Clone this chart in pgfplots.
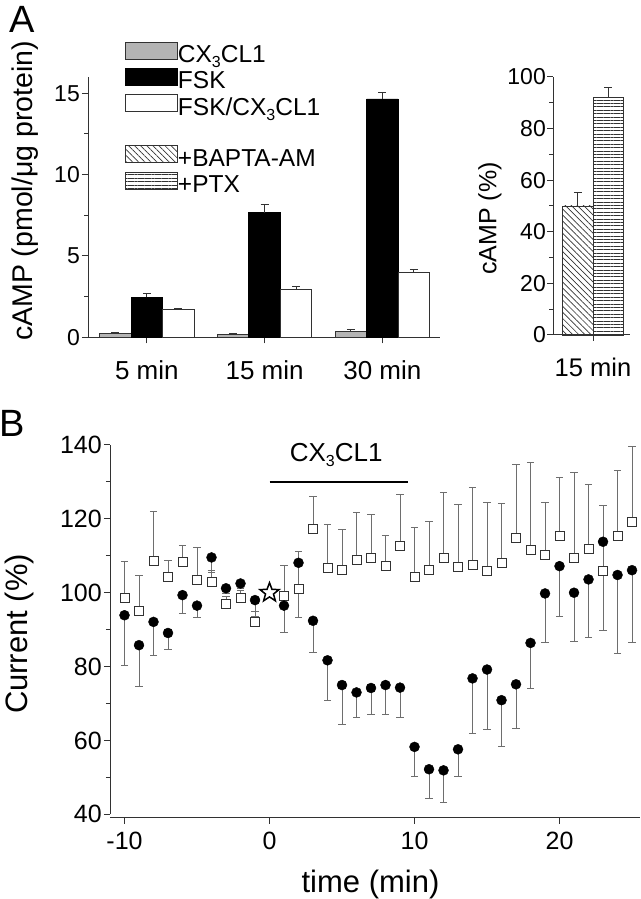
\documentclass[border=0pt]{standalone}
\usepackage{pgfplots}
\usepackage{pgfplotstable}
\pgfplotsset{compat=1.18}
\usepackage{fontspec}
\setmainfont{Liberation Sans}
\usetikzlibrary{patterns.meta}
\definecolor{barGray}{RGB}{180,180,180}
\definecolor{errGray}{RGB}{110,110,110}
\definecolor{axGray}{RGB}{50,50,50}
\newcommand{\fs}[1]{\fontsize{#1}{#1}\selectfont}
\newcommand{\sub}[1]{\raisebox{-0.2em}{\fontsize{16}{16}\selectfont #1}}

\pgfdeclareplotmark{ostar}{%
  \pgfpathmoveto{\pgfpointpolar{90}{\pgfplotmarksize}}%
  \pgfpathlineto{\pgfpointpolar{126}{0.42\pgfplotmarksize}}%
  \pgfpathlineto{\pgfpointpolar{162}{\pgfplotmarksize}}%
  \pgfpathlineto{\pgfpointpolar{198}{0.42\pgfplotmarksize}}%
  \pgfpathlineto{\pgfpointpolar{234}{\pgfplotmarksize}}%
  \pgfpathlineto{\pgfpointpolar{270}{0.42\pgfplotmarksize}}%
  \pgfpathlineto{\pgfpointpolar{306}{\pgfplotmarksize}}%
  \pgfpathlineto{\pgfpointpolar{342}{0.42\pgfplotmarksize}}%
  \pgfpathlineto{\pgfpointpolar{18}{\pgfplotmarksize}}%
  \pgfpathlineto{\pgfpointpolar{54}{0.42\pgfplotmarksize}}%
  \pgfpathclose
  \pgfusepathqfillstroke}

\pgfplotsset{
  myax/.style={
    scale only axis,
    axis x line=bottom, axis y line=left,
    axis line style={-, axGray, line width=1pt},
    tick align=outside,
    major tick length=6pt, minor tick length=4pt,
    every tick/.style={axGray, line width=1pt},
    /pgf/number format/assume math mode=true,
    clip=false,
  },
  mylegimg/.style={legend image code/.code={\draw[##1,line width=0.8pt] (0pt,0pt) rectangle (52pt,17pt);}},
}

\pgfplotstableread{
x y e
-10 98.6 9.8
-9 95.1 9.5
-8 108.6 13.5
-7 104.3 4.5
-6 108.4 4.3
-5 103.6 8.7
-4 102.9 3.0
-3 96.9 2.0
-2 98.6 2.0
-1 92.1 2.9
1 99.1 8.2
2 100.9 10.4
3 117.4 8.6
4 106.6 12.0
5 106.1 11.1
6 108.8 13.0
7 109.55 11.7
8 107.3 8.3
9 112.6 13.9
10 104.3 13.3
11 106.1 13.1
12 109.55 17.6
13 107.0 17.0
14 107.6 20.8
15 105.9 18.6
16 108.1 16.1
17 114.9 19.7
18 111.7 23.5
19 110.2 14.3
20 115.4 15.8
21 109.5 23.0
22 111.9 17.3
23 105.9 17.6
24 115.4 17.6
25 119.2 20.5
}\sqdata

\pgfplotstableread{
x y e
-10 93.9 13.5
-9 85.8 11.1
-8 92.1 9.2
-7 89.1 4.4
-6 99.35 5.0
-5 96.5 3.3
-4 109.55 4.0
-3 101.2 1.4
-2 102.5 1.3
-1 98.0 4.5
1 96.5 7.3
2 108.1 14.9
3 92.4 8.7
4 81.7 10.8
5 75.0 10.6
6 73.0 6.9
7 74.2 7.1
8 75.0 7.9
9 74.3 8.2
10 58.25 8.0
11 52.2 7.8
12 51.9 8.6
13 57.6 7.3
14 76.8 14.9
15 79.2 16.2
16 70.9 12.4
17 75.2 12.0
18 86.4 12.3
19 99.8 13.4
20 107.2 13.5
21 100.0 13.1
22 103.6 15.7
23 113.8 24.1
24 104.8 21.3
25 106.1 19.6
}\cirdata

\begin{document}
\begin{tikzpicture}
\path[use as bounding box] (0pt,0pt) rectangle (640pt,899pt);

\node[anchor=base west, inner sep=0pt, font=\fs{38}] at (9pt,866pt) {A};
\node[anchor=base west, inner sep=0pt, font=\fs{38}] at (-1pt,462pt) {B};

% Panel A left
\begin{axis}[myax,
  at={(88pt,561.7pt)}, anchor=south west,
  width=352pt, height=260.3pt,
  xmin=-0.5, xmax=2.49, ymin=0, ymax=16,
  ytick={0,5,10,15}, minor ytick={2.5,7.5,12.5},
  xtick={0,1,2}, xticklabels={5 min,15 min,30 min},
  ybar=0pt, bar width=31.5pt,
  yticklabel style={font=\fs{23}, inner sep=2pt},
  xticklabel style={font=\fs{26}, inner sep=0pt, yshift=-17pt},
  ylabel={cAMP (pmol/μg protein)},
  every axis y label/.style={at={(-0.179,0.562)}, rotate=90, anchor=center, font=\fs{28.5}},
  error bars/y dir=plus, error bars/y explicit,
  error bars/error mark options={rotate=90, mark size=4pt, axGray, line width=0.8pt},
  error bars/error bar style={axGray, line width=0.8pt},
  legend style={at={(0.105,1.137)}, anchor=north west, draw=none, fill=none,
    inner sep=0pt, row sep=0.5pt, font=\fs{24.5},
    nodes={inner sep=0pt, text height=12pt, text depth=5pt},
    /tikz/every even column/.append style={column sep=4pt}},
  legend cell align=left,
]
\addplot[fill=barGray, draw=axGray, line width=0.8pt, mylegimg] coordinates {(0,0.22) +- (0,0.07) (1,0.2) +- (0,0.05) (2,0.37) +- (0,0.13)};
\addlegendentry{CX\sub{3}CL1}
\addplot[fill=black, draw=black, line width=0.8pt, mylegimg] coordinates {(0,2.46) +- (0,0.24) (1,7.66) +- (0,0.49) (2,14.65) +- (0,0.39)};
\addlegendentry{FSK}
\addplot[fill=white, draw=axGray, line width=0.8pt, mylegimg] coordinates {(0,1.7) +- (0,0.1) (1,2.95) +- (0,0.2) (2,3.97) +- (0,0.21)};
\addlegendentry{FSK/CX\sub{3}CL1}
\addlegendimage{draw=none, fill=none, legend image code/.code={\path[draw=none,fill=none] (0pt,-5pt) rectangle (1pt,15.5pt);}}
\addlegendentry{}
\addlegendimage{draw=axGray, pattern={Lines[angle=-45,distance=4.3pt,line width=0.7pt]}, pattern color=axGray, mylegimg}
\addlegendentry{+BAPTA-AM}
\addlegendimage{draw=axGray, pattern={Lines[angle=0,distance=3.4pt,line width=0.7pt]}, pattern color=axGray, mylegimg}
\addlegendentry{+PTX}
\end{axis}

% Panel A right
\begin{axis}[myax,
  at={(553pt,564pt)}, anchor=south west,
  width=77pt, height=258pt,
  xmin=-40, xmax=37, ymin=0, ymax=100,
  ytick={0,20,40,60,80,100}, minor ytick={10,30,50,70,90},
  xtick={0}, xticklabels={15 min},
  yticklabel style={font=\fs{23}, inner sep=1pt},
  xticklabel style={font=\fs{25.5}, inner sep=0pt, yshift=-17pt},
  ylabel={cAMP (\%)},
  every axis y label/.style={at={(-0.818,0.4516)}, rotate=90, anchor=center, font=\fs{25}},
  error bars/y dir=plus, error bars/y explicit,
  error bars/error mark options={rotate=90, mark size=4pt, axGray, line width=0.8pt},
  error bars/error bar style={axGray, line width=0.8pt},
]
\addplot[ybar, bar width=30.5pt, bar shift=0pt, draw=axGray, line width=0.8pt,
  pattern={Lines[angle=-45,distance=4.3pt,line width=0.7pt]}, pattern color=axGray]
  coordinates {(-15.2,50) +- (0,5.3)};
\addplot[ybar, bar width=30.5pt, bar shift=0pt, draw=axGray, line width=0.8pt,
  pattern={Lines[angle=0,distance=3.4pt,line width=0.7pt]}, pattern color=axGray]
  coordinates {(15.3,92) +- (0,4)};
\end{axis}

% Panel B
\begin{axis}[myax,
  at={(110pt,84.7pt)}, anchor=south west,
  width=530pt, height=369.3pt,
  xmin=-11, xmax=25.55, ymin=40, ymax=140,
  ytick={40,60,80,100,120,140}, minor ytick={50,70,90,110,130},
  xtick={-10,0,10,20},
  axis x line shift=3.5pt,
  yticklabel style={font=\fs{25}, inner sep=2pt},
  xticklabel style={font=\fs{25}, inner sep=0pt, yshift=-8pt},
  ylabel={Current (\%)}, xlabel={time (min)},
  every axis y label/.style={at={(-0.170,0.4886)}, rotate=90, anchor=center, font=\fs{31}},
  every axis x label/.style={at={(0.4915,-0.2106)}, anchor=base, font=\fs{31}},
]
\addplot[only marks, mark=square*, mark size=4.5pt, mark options={fill=white, draw=axGray, line width=0.8pt},
  error bars/.cd, y dir=plus, y explicit,
  error mark options={rotate=90, mark size=3.7pt, errGray, line width=0.9pt},
  error bar style={errGray, line width=0.9pt}]
  table[x=x, y=y, y error=e] {\sqdata};
\addplot[only marks, mark=*, mark size=5pt, mark options={fill=black, draw=black},
  error bars/.cd, y dir=minus, y explicit,
  error mark options={rotate=90, mark size=3.7pt, errGray, line width=0.9pt},
  error bar style={errGray, line width=0.9pt}]
  table[x=x, y=y, y error=e] {\cirdata};
\addplot[only marks, mark=ostar, mark size=10pt, mark options={fill=white, draw=black, line width=1.5pt}]
  coordinates {(0,100)};
\addplot[black, line width=2.5pt, mark=none] coordinates {(0,130) (9.55,130)};
\node[anchor=base, font=\fs{26}, inner sep=0pt] at (axis cs:4.6,135.5) {CX\sub{3}CL1};
\end{axis}
\end{tikzpicture}
\end{document}
